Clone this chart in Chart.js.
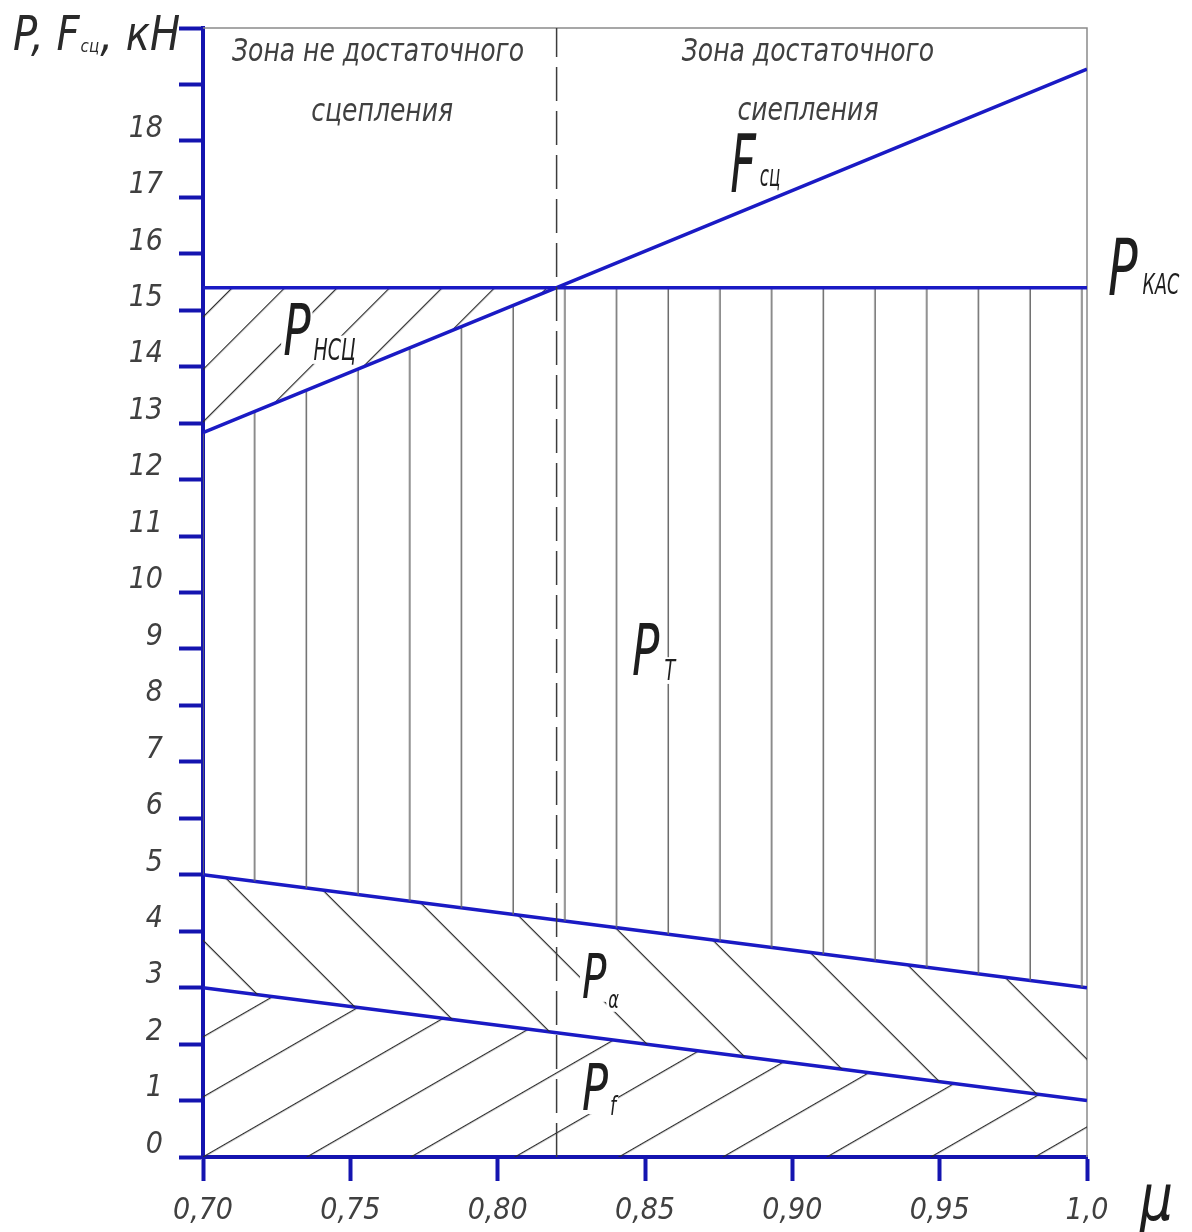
<!DOCTYPE html>
<html lang="ru">
<head>
<meta charset="utf-8">
<title>P, Fсц = f(μ)</title>
<script src="https://cdn.jsdelivr.net/npm/chart.js@4.4.1/dist/chart.umd.min.js"></script>
<style>
  html, body { margin: 0; padding: 0; background: #fff; }
  #wrap { width: 1192px; height: 1232px; position: relative; }
</style>
</head>
<body>
<div id="wrap"><canvas id="grafico"></canvas></div>
<script>
// коэффициент сцепления (ось X)
const mu = [0.70, 0.82, 1.0];
const zoneBorder = 0.82;

// силы, кН
const fSc = [12.83, 15.4, 19.27];   // сила сцепления
const pKas = [15.4, 15.4, 15.4];    // касательная сила
const pTTop = [12.83, 15.4, 15.4];  // верхняя граница зоны Pт
const pAlpha = [5.0, 4.2, 3.0];
const pF = [3.0, 2.2, 1.0];

const xTicks = [0.70, 0.75, 0.80, 0.85, 0.90, 0.95, 1.0];
const xTickLabels = ["0,70", "0,75", "0,80", "0,85", "0,90", "0,95", "1,0"];
const yTicks = [0, 1, 2, 3, 4, 5, 6, 7, 8, 9, 10, 11, 12, 13, 14, 15, 16, 17, 18, 19, 20];
const yTickLabels = ["0", "1", "2", "3", "4", "5", "6", "7", "8", "9", "10",
                     "11", "12", "13", "14", "15", "16", "17", "18", "", ""];

const FONT = "'Liberation Sans Narrow', 'DejaVu Sans Condensed', sans-serif";
const BLUE = "#1a1ac4";
const AXIS_BLUE = "#1414b0";

function pts(ys) {
    return mu.map((m, i) => ({ x: m, y: ys[i] }));
}

// штриховки
const hatchCache = {};
function hatch(chart, key, angle, spacing, ax, ay, color, lw) {
    const area = chart.chartArea;
    if (!area) return undefined;
    const x0 = chart.scales.x.getPixelForValue(ax);
    const y0 = chart.scales.y.getPixelForValue(ay);
    const id = key + ":" + x0.toFixed(1) + ":" + y0.toFixed(1);
    if (hatchCache[id]) return hatchCache[id];
    const tileH = Math.round(spacing);
    const c = document.createElement("canvas");
    c.width = 16;
    c.height = tileH;
    const g = c.getContext("2d");
    g.fillStyle = color;
    g.fillRect(0, 0, 16, lw);
    const p = chart.ctx.createPattern(c, "repeat");
    p.setTransform(new DOMMatrix()
        .translate(x0, y0)
        .rotate(angle)
        .scale(1, spacing / tileH)
        .translate(0, -lw / 2));
    hatchCache[id] = p;
    return p;
}

// подписи
const notes = [
    { parts: [["Зона не достаточного", 32]], x: 0.7594, y: 19.55, align: "center", color: "#404040", sx: 0.87 },
    { parts: [["сцепления", 32]], x: 0.7608, y: 18.49, align: "center", color: "#404040", sx: 0.87 },
    { parts: [["Зона достаточного", 32]], x: 0.9053, y: 19.55, align: "center", color: "#404040", sx: 0.87 },
    { parts: [["сиепления", 32]], x: 0.9053, y: 18.51, align: "center", color: "#404040", sx: 0.87 },
    { parts: [["F", 80], ["сц", 30, 4, -6]], x: 0.8789, y: 17.09, color: "#1e1e1e", sx: 0.62 },
    { parts: [["P", 78], ["КАС", 28, 5, -1]], x: 1.0071, y: 15.27, color: "#1e1e1e", sx: 0.7 },
    { parts: [["P", 72], ["НСЦ", 30, 3, 5]], x: 0.7272, y: 14.21, color: "#1e1e1e", sx: 0.7, box: true },
    { parts: [["P", 72], ["T", 28, 5, 5]], x: 0.8456, y: 8.54, color: "#1e1e1e", sx: 0.7, box: true },
    { parts: [["P", 60], ["α", 24, 2, 10]], x: 0.8286, y: 2.82, color: "#1e1e1e", sx: 0.75, box: true },
    { parts: [["P", 64], ["f", 26, 2, 5]], x: 0.8286, y: 0.83, color: "#1e1e1e", sx: 0.75, box: true },
    { parts: [["μ", 64]], x: 1.018, y: -1.12, color: "#1e1e1e", sx: 0.9 },
    { parts: [["P, F", 48], ["сц", 18, 1, 2], [", кН", 48, 1, 0]], x: 0.6355, y: 19.61, color: "#2a2a2a", sx: 0.93 }
];

const framePlugin = {
    id: "frame",
    beforeDatasetsDraw(chart) {
        const { ctx, chartArea: a } = chart;
        ctx.save();
        ctx.strokeStyle = "#8a8a8a";
        ctx.lineWidth = 1.5;
        ctx.beginPath();
        ctx.moveTo(a.left, a.top);
        ctx.lineTo(a.right, a.top);
        ctx.lineTo(a.right, a.bottom);
        ctx.stroke();
        ctx.restore();
    }
};

const notesPlugin = {
    id: "notes",
    afterDatasetsDraw(chart) {
        const ctx = chart.ctx;
        const sx = chart.scales.x, sy = chart.scales.y;
        notes.forEach(n => {
            const px = sx.getPixelForValue(n.x);
            const py = sy.getPixelForValue(n.y);
            let w = 0;
            const segs = n.parts.map(p => {
                ctx.font = "italic " + p[1] + "px " + FONT;
                const sw = ctx.measureText(p[0]).width * n.sx;
                const seg = { t: p[0], size: p[1], dy: (p[3] || 0), x: w + (p[2] || 0), w: sw };
                w += (p[2] || 0) + sw;
                return seg;
            });
            const x = n.align === "center" ? px - w / 2 : px;
            const base = n.align === "center" ? py + 8 : py;
            if (n.box) {
                ctx.save();
                ctx.fillStyle = "#fff";
                segs.forEach(s => {
                    const t = base + s.dy - s.size * 0.74 - 2;
                    ctx.fillRect(x + s.x - 2, t, s.w + 4, s.size * 0.74 + 6);
                });
                ctx.restore();
            }
            segs.forEach(s => {
                ctx.save();
                ctx.font = "italic " + s.size + "px " + FONT;
                ctx.fillStyle = n.color;
                ctx.textBaseline = "alphabetic";
                ctx.textAlign = "left";
                ctx.translate(x + s.x, base + s.dy);
                ctx.scale(n.sx, 1);
                ctx.fillText(s.t, 0, 0);
                ctx.restore();
            });
        });
    }
};

const ctx = document.getElementById("grafico");

new Chart(ctx, {
    type: "line",
    data: {
        datasets: [
            {
                label: "граница зон",
                data: [{ x: zoneBorder, y: 0 }, { x: zoneBorder, y: 20 }],
                borderColor: "#3c3c3c",
                borderWidth: 1.5,
                borderDash: [34, 10],
                pointRadius: 0,
                fill: false
            },
            {
                label: "Fсц",
                data: pts(fSc),
                borderColor: BLUE,
                borderWidth: 3.5,
                pointRadius: 0,
                fill: false
            },
            {
                label: "Pкас",
                data: pts(pKas),
                borderColor: BLUE,
                borderWidth: 3.5,
                pointRadius: 0,
                backgroundColor: (c) => hatch(c.chart, "nsc", -45, 37.1, 0.70, 13.02, "#2a2a2a", 1.2),
                fill: { target: 1, below: "rgba(0,0,0,0)" }
            },
            {
                label: "Pт",
                data: pts(pTTop),
                borderWidth: 0,
                borderColor: "rgba(0,0,0,0)",
                pointRadius: 0,
                backgroundColor: (c) => hatch(c.chart, "t", 90, 51.7, 0.70, 0, "#6a6a6a", 1.5),
                fill: { target: 4 }
            },
            {
                label: "Pα",
                data: pts(pAlpha),
                borderColor: BLUE,
                borderWidth: 3.5,
                pointRadius: 0,
                backgroundColor: (c) => hatch(c.chart, "a", 45, 60.1, 0.70, 3.84, "#2a2a2a", 1.2),
                fill: { target: 5 }
            },
            {
                label: "Pf",
                data: pts(pF),
                borderColor: BLUE,
                borderWidth: 3.5,
                pointRadius: 0,
                backgroundColor: (c) => hatch(c.chart, "f", -30, 52, 0.70, 0, "#2a2a2a", 1.2),
                fill: "origin"
            }
        ]
    },
    options: {
        responsive: true,
        maintainAspectRatio: false,
        animation: false,
        layout: { padding: { left: 0, right: 105, top: 28, bottom: 0 } },
        plugins: {
            legend: { display: false },
            tooltip: { enabled: false }
        },
        scales: {
            x: {
                type: "linear",
                min: 0.70,
                max: 1.0,
                afterBuildTicks: (s) => { s.ticks = xTicks.map(v => ({ value: v })); },
                afterFit: (s) => { s.height = 75; s.paddingLeft = 0; s.paddingRight = 0; },
                border: { color: AXIS_BLUE, width: 4 },
                grid: { drawOnChartArea: false, drawTicks: true, tickLength: 24, tickColor: AXIS_BLUE, tickWidth: 4 },
                ticks: {
                    autoSkip: false,
                    maxRotation: 0,
                    padding: 12,
                    color: "#404040",
                    font: { family: FONT, size: 30, style: "italic" },
                    callback: (v, i) => xTickLabels[i]
                }
            },
            y: {
                type: "linear",
                min: 0,
                max: 20,
                afterBuildTicks: (s) => { s.ticks = yTicks.map(v => ({ value: v })); },
                afterFit: (s) => { s.width = 203; s.paddingTop = 0; s.paddingBottom = 0; },
                border: { color: AXIS_BLUE, width: 4 },
                grid: { drawOnChartArea: false, drawTicks: true, tickLength: 24, tickColor: AXIS_BLUE, tickWidth: 4 },
                ticks: {
                    autoSkip: false,
                    padding: 16,
                    labelOffset: -12,
                    color: "#404040",
                    font: { family: FONT, size: 30, style: "italic" },
                    callback: (v, i) => yTickLabels[i]
                }
            }
        }
    },
    plugins: [framePlugin, notesPlugin]
});
</script>
</body>
</html>
